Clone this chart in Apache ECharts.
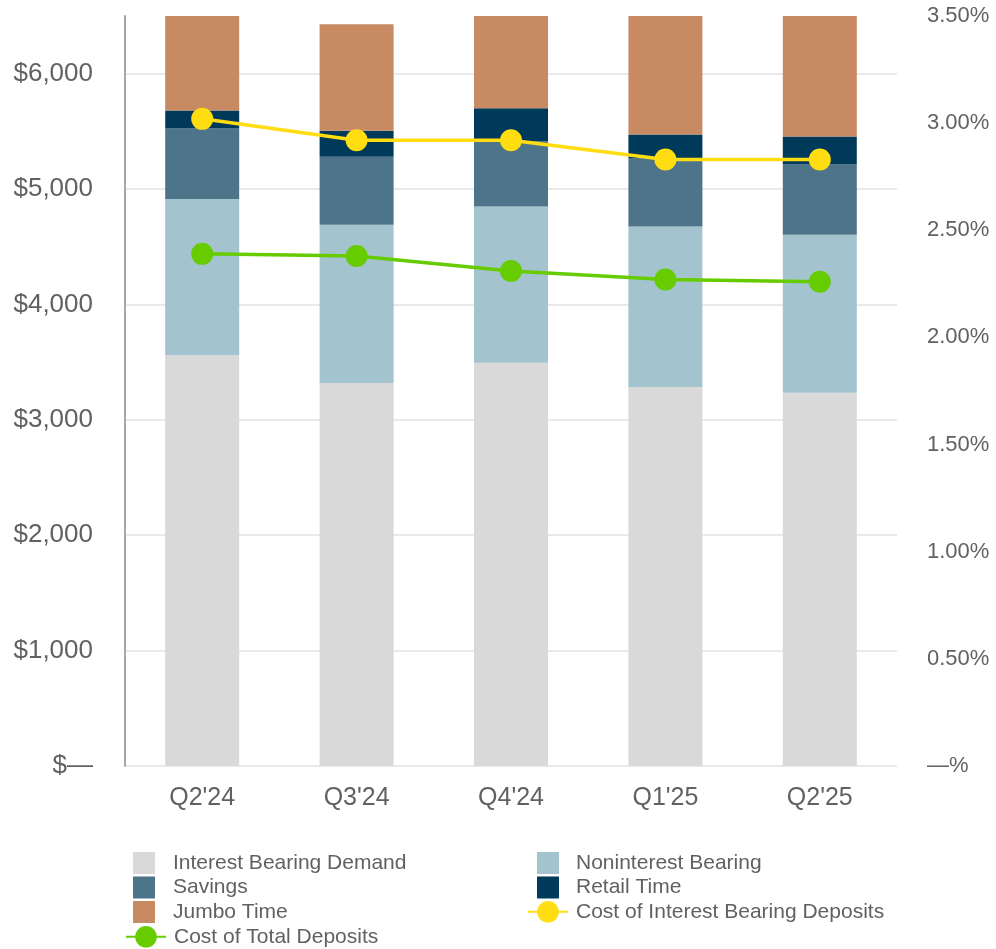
<!DOCTYPE html>
<html lang="en">
<head>
    <meta charset="utf-8" />
    <title>Deposits</title>
    <script src="https://cdn.jsdelivr.net/npm/echarts@6/dist/echarts.min.js"></script>
</head>
<body style="margin:0">
<div id="main" style="width: 996px;height:949px;"></div>
<script type="text/javascript">
    // quarters and deposit mix ($ millions)
    var quarters = ["Q2'24", "Q3'24", "Q4'24", "Q1'25", "Q2'25"];
    var interestBearingDemand = [3560, 3320, 3495, 3285, 3235];
    var noninterestBearing = [1355, 1370, 1355, 1390, 1370];
    var savings = [610, 590, 565, 590, 608];
    var retailTime = [156, 225, 286, 208, 242];
    var jumboTime = [1000, 924, 900, 1100, 1120];
    // cost of deposits (%)
    var costInterestBearing = [3.02, 2.92, 2.92, 2.83, 2.83];
    var costTotal = [2.39, 2.38, 2.31, 2.27, 2.26];

    var font = 'Liberation Sans, Arial, sans-serif';
    var textColor = '#616161';

    var myChart = echarts.init(document.getElementById('main'), null, {renderer: 'canvas'});

    function barSeries(name, data, color) {
      return {
        name: name,
        type: 'bar',
        stack: 'deposits',
        barWidth: 74,
        data: data,
        itemStyle: {color: color},
        emphasis: {disabled: true}
      };
    }
    function lineSeries(name, data, color) {
      return {
        name: name,
        type: 'line',
        yAxisIndex: 1,
        data: data,
        symbol: 'circle',
        symbolSize: 22,
        z: 5,
        lineStyle: {color: color, width: 3.5},
        itemStyle: {color: color},
        emphasis: {disabled: true}
      };
    }
    // legend in two columns; squares and line icons need different sizes
    function legendPart(left, top, names, opts) {
      return Object.assign({
        orient: 'vertical',
        padding: 0,
        left: left,
        top: top,
        itemWidth: 22,
        itemHeight: 22,
        itemGap: 2.5,
        icon: 'rect',
        selectedMode: false,
        data: names,
        textStyle: {color: textColor, fontSize: 21, fontFamily: font, padding: [0, 0, 0, 13]}
      }, opts || {});
    }
    var lineLegendOpts = {
      itemWidth: 40, itemHeight: 27, icon: null,
      textStyle: {color: textColor, fontSize: 21, fontFamily: font, padding: [0, 0, 0, 3]}
    };

    var option = {
      animation: false,
      grid: {left: 125, right: 99, top: 16, bottom: 183},
      legend: [
        legendPart(133, 852, ['Interest Bearing Demand', 'Savings', 'Jumbo Time']),
        legendPart(537, 852, ['Noninterest Bearing', 'Retail Time'],
          {textStyle: {color: textColor, fontSize: 21, fontFamily: font, padding: [0, 0, 0, 12]}}),
        legendPart(125, 926, ['Cost of Total Deposits'], lineLegendOpts),
        legendPart(527, 901, ['Cost of Interest Bearing Deposits'], lineLegendOpts)
      ],
      xAxis: {
        type: 'category',
        data: quarters,
        axisLine: {show: false},
        axisTick: {show: false},
        axisLabel: {color: textColor, fontSize: 25, fontFamily: font, margin: 20}
      },
      yAxis: [
        {
          type: 'value',
          min: 0,
          max: 6500,
          interval: 1000,
          axisLine: {show: true, lineStyle: {color: '#a6a6a6', width: 2}},
          axisTick: {show: false},
          splitLine: {show: true, showMaxLine: false, lineStyle: {color: '#e9e9e9', width: 2}},
          axisLabel: {
            color: textColor, fontSize: 26, fontFamily: font, margin: 32, showMaxLabel: false,
            formatter: function (v) {
              return v === 0 ? '$\u2014' : '$' + v.toLocaleString('en-US');
            }
          }
        },
        {
          type: 'value',
          min: 0,
          max: 3.5,
          interval: 0.5,
          position: 'right',
          axisLine: {show: false},
          axisTick: {show: false},
          splitLine: {show: false},
          axisLabel: {
            color: textColor, fontSize: 22, fontFamily: font, margin: 30,
            formatter: function (v) {
              return v === 0 ? '\u2014%' : v.toFixed(2) + '%';
            }
          }
        }
      ],
      series: [
        barSeries('Interest Bearing Demand', interestBearingDemand, '#d9d9d9'),
        barSeries('Noninterest Bearing', noninterestBearing, '#a3c3ce'),
        barSeries('Savings', savings, '#4e7489'),
        barSeries('Retail Time', retailTime, '#003a5a'),
        barSeries('Jumbo Time', jumboTime, '#c78a63'),
        lineSeries('Cost of Interest Bearing Deposits', costInterestBearing, '#ffdd10'),
        lineSeries('Cost of Total Deposits', costTotal, '#66cc00')
      ]
    };
    myChart.setOption(option);
</script>
</body>
</html>
